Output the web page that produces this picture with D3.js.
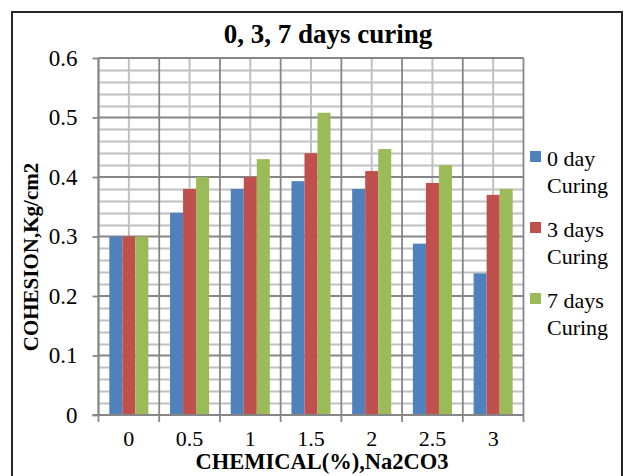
<!DOCTYPE html>
<html>
<head>
<meta charset="utf-8">
<script src="https://d3js.org/d3.v7.min.js"></script>
<style>
  body { margin: 0; background: #fff; }
</style>
</head>
<body>
<svg id="chart" width="625" height="476"></svg>
<script>
var categories = ["0", "0.5", "1", "1.5", "2", "2.5", "3"];
var seriesNames = ["0 day Curing", "3 days Curing", "7 days Curing"];
var day0 = [0.30, 0.34, 0.38, 0.393, 0.38, 0.288, 0.238];
var day3 = [0.30, 0.38, 0.40, 0.44, 0.41, 0.39, 0.37];
var day7 = [0.30, 0.40, 0.43, 0.508, 0.447, 0.42, 0.38];
var yTicks = [0, 0.1, 0.2, 0.3, 0.4, 0.5, 0.6];
var colors = ["#4f81bd", "#c0504d", "#9bbb59"];

(function() {
  var FONT = "Liberation Serif";
  var svg = d3.select("#chart");
  var values = [day0, day3, day7];

  // outer frame of the chart
  svg.append("rect")
      .attr("x", 12)
      .attr("y", 12)
      .attr("width", 610)
      .attr("height", 470)
      .attr("fill", "#fff")
      .attr("stroke", "#262626")
      .attr("stroke-width", 2);

  var left = 98.5, right = 523.5, top = 58, bottom = 415;

  var x0 = d3.scaleBand()
      .domain(categories)
      .range([left, right]);

  var x1 = d3.scaleBand()
      .domain(d3.range(seriesNames.length))
      .range([0, x0.bandwidth()])
      .paddingOuter(0.83);

  var y = d3.scaleLinear()
      .domain([0, 0.6])
      .range([bottom, top]);

  var grid = svg.append("g").attr("class", "grid");

  // minor horizontal lines every 0.02
  grid.selectAll("line.hmin")
    .data(d3.range(0, 31).map(function(i) { return i * 0.02; })
      .filter(function(v, i) { return i % 5 !== 0; }))
    .enter().append("line")
      .attr("class", "hmin")
      .attr("x1", left).attr("x2", right)
      .attr("y1", function(d) { return Math.round(y(d)) + 0.5; })
      .attr("y2", function(d) { return Math.round(y(d)) + 0.5; })
      .attr("stroke", "#c0c0c0")
      .attr("stroke-width", 2);

  // minor vertical lines at category centres
  grid.selectAll("line.vmin")
    .data(categories)
    .enter().append("line")
      .attr("class", "vmin")
      .attr("x1", function(d) { return x0(d) + x0.bandwidth() / 2; })
      .attr("x2", function(d) { return x0(d) + x0.bandwidth() / 2; })
      .attr("y1", top).attr("y2", bottom)
      .attr("stroke", "#c0c0c0")
      .attr("stroke-width", 2);

  // major lines
  grid.selectAll("line.hmaj")
    .data(yTicks)
    .enter().append("line")
      .attr("class", "hmaj")
      .attr("x1", left).attr("x2", right)
      .attr("y1", function(d) { return y(d); })
      .attr("y2", function(d) { return y(d); })
      .attr("stroke", "#868686")
      .attr("stroke-width", 1.8);

  grid.selectAll("line.vmaj")
    .data(categories.concat(["end"]))
    .enter().append("line")
      .attr("class", "vmaj")
      .attr("x1", function(d) { return d === "end" ? right : x0(d); })
      .attr("x2", function(d) { return d === "end" ? right : x0(d); })
      .attr("y1", top).attr("y2", bottom)
      .attr("stroke", "#868686")
      .attr("stroke-width", 1.8);

  // bars
  svg.append("g")
    .selectAll("g")
    .data(categories)
    .enter().append("g")
      .attr("transform", function(d) { return "translate(" + x0(d) + ",0)"; })
    .selectAll("rect")
    .data(function(d, i) {
      return values.map(function(s, k) { return { k: k, v: s[i] }; });
    })
    .enter().append("rect")
      .attr("x", function(d) { return x1(d.k); })
      .attr("width", x1.bandwidth())
      .attr("y", function(d) { return y(d.v); })
      .attr("height", function(d) { return bottom - y(d.v); })
      .attr("fill", function(d) { return colors[d.k]; });

  // axes
  var yAxis = svg.append("g")
      .attr("transform", "translate(" + left + ",0)")
      .call(d3.axisLeft(y)
        .tickValues(yTicks)
        .tickSize(6)
        .tickPadding(15)
        .tickFormat(function(d) { return d === 0 ? "0" : d3.format(".1f")(d); }));

  var xAxis = svg.append("g")
      .attr("transform", "translate(0," + bottom + ")")
      .call(d3.axisBottom(x0).tickSize(0).tickPadding(15));

  xAxis.selectAll(".tick")
    .append("line")
      .attr("x1", -x0.bandwidth() / 2)
      .attr("x2", -x0.bandwidth() / 2)
      .attr("y2", 7);

  xAxis.append("line")
      .attr("x1", right).attr("x2", right)
      .attr("y2", 7);

  [xAxis, yAxis].forEach(function(ax) {
    ax.attr("font-family", FONT);
    ax.selectAll("path, line")
        .attr("stroke", "#868686")
        .attr("stroke-width", 1.8);
    ax.select(".domain").remove();
    ax.selectAll("text")
        .attr("font-family", FONT)
        .attr("fill", "#000");
  });

  yAxis.attr("font-size", 23);
  xAxis.attr("font-size", 22);

  svg.append("line")
      .attr("x1", left).attr("x2", left)
      .attr("y1", top).attr("y2", bottom)
      .attr("stroke", "#868686").attr("stroke-width", 1.8);
  svg.append("line")
      .attr("x1", left - 6).attr("x2", right)
      .attr("y1", bottom).attr("y2", bottom)
      .attr("stroke", "#868686").attr("stroke-width", 1.8);

  // titles
  svg.append("text")
      .attr("x", 328)
      .attr("y", 43)
      .attr("text-anchor", "middle")
      .attr("font-family", FONT)
      .attr("font-weight", "bold")
      .attr("font-size", 27)
      .text("0, 3, 7 days curing");

  svg.append("text")
      .attr("x", 322)
      .attr("y", 469)
      .attr("text-anchor", "middle")
      .attr("font-family", FONT)
      .attr("font-weight", "bold")
      .attr("font-size", 22.5)
      .text("CHEMICAL(%),Na2CO3");

  svg.append("text")
      .attr("transform", "translate(38,257) rotate(-90)")
      .attr("text-anchor", "middle")
      .attr("font-family", FONT)
      .attr("font-weight", "bold")
      .attr("font-size", 21)
      .text("COHESION,Kg/cm2");

  // legend
  var legend = svg.append("g")
    .selectAll("g")
    .data(seriesNames)
    .enter().append("g")
      .attr("transform", function(d, i) { return "translate(530," + (151 + i * 71) + ")"; });

  legend.append("rect")
      .attr("width", 11)
      .attr("height", 11)
      .attr("fill", function(d, i) { return colors[i]; });

  legend.append("text")
      .attr("font-family", FONT)
      .attr("font-size", 22)
      .attr("fill", "#000")
      .selectAll("tspan")
      .data(function(d) {
        var p = d.split(" ");
        return [p.slice(0, 2).join(" "), p[2]];
      })
      .enter().append("tspan")
        .attr("x", 17)
        .attr("y", function(d, i) { return 15 + i * 27; })
        .text(function(d) { return d; });
})();
</script>
</body>
</html>
